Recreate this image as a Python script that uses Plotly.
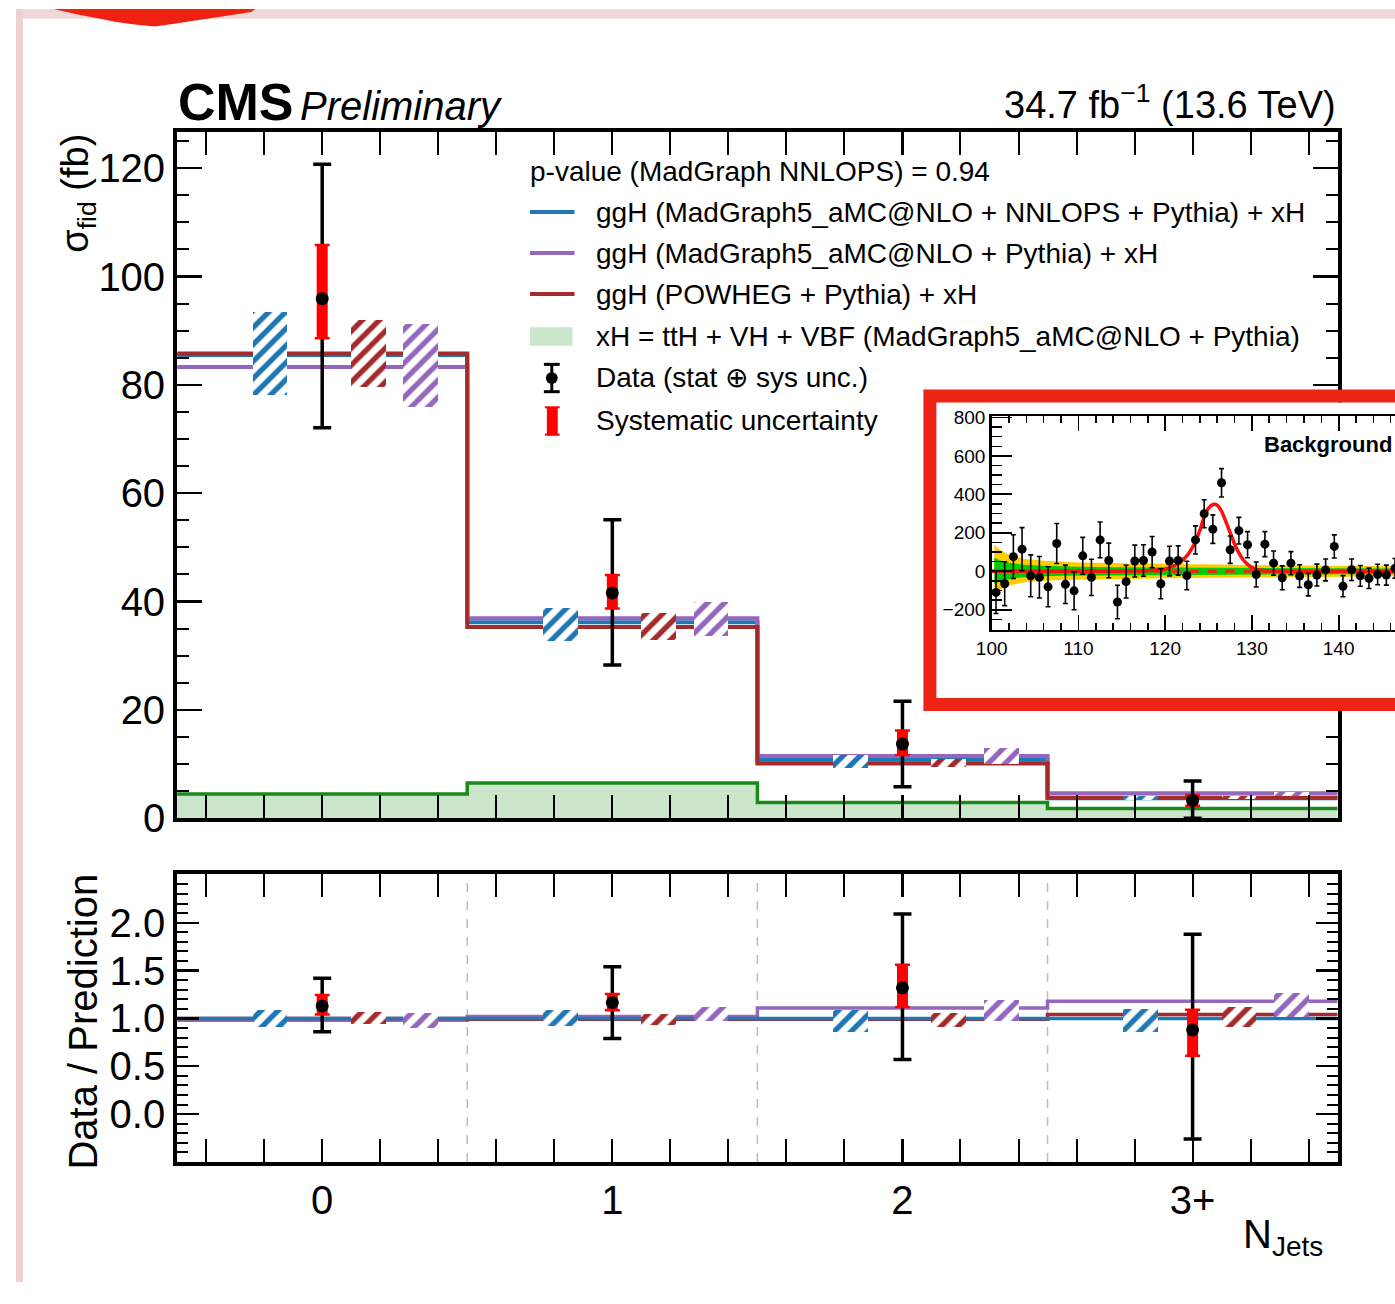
import plotly.graph_objects as go

W, H = 1395, 1304
def px(x): return x / W
def py(y): return 1 - y / H

FONT = "Liberation Sans, Arial, Helvetica, sans-serif"

categories = ['0', '1', '2', '3+']
centers = [0, 1, 2, 3]
edges = [-0.5, 0.5, 1.5, 2.5, 3.5]

data_val = [95.9, 41.6, 13.7, 3.3]
data_tot_up = [120.7, 55.1, 21.6, 6.9]
data_tot_dn = [72.1, 28.3, 5.8, 0.0]
data_sys_up = [105.8, 44.9, 16.2, 4.3]
data_sys_dn = [88.6, 38.7, 11.7, 2.3]

nnlops = [85.5, 36.2, 10.8, 3.7]
nnlops_lo = [78.2, 32.8, 9.2, 3.3]
nnlops_hi = [93.5, 38.9, 11.7, 4.1]
madgraph = [83.3, 36.9, 11.5, 4.6]
madgraph_lo = [75.9, 33.7, 10.1, 4.1]
madgraph_hi = [91.2, 40.0, 13.0, 4.9]
powheg = [85.8, 35.3, 10.1, 3.8]
powheg_lo = [79.6, 33.0, 9.4, 3.5]
powheg_hi = [91.9, 37.8, 11.0, 4.1]
xh = [4.5, 6.5, 2.9, 1.8]

r_data = [1.13, 1.166, 1.32, 0.88]
r_tot_up = [1.42, 1.54, 2.09, 1.88]
r_tot_dn = [0.86, 0.79, 0.57, -0.26]
r_sys_up = [1.245, 1.255, 1.56, 1.09]
r_sys_dn = [1.04, 1.085, 1.12, 0.61]
r_nnlops = [1.0, 1.0, 1.0, 1.0]
r_nnlops_lo = [0.915, 0.92, 0.855, 0.855]
r_nnlops_hi = [1.085, 1.085, 1.09, 1.10]
r_madgraph = [0.98, 1.02, 1.11, 1.18]
r_madgraph_lo = [0.895, 0.97, 0.97, 1.01]
r_madgraph_hi = [1.06, 1.12, 1.19, 1.27]
r_powheg = [1.0, 0.99, 0.99, 1.04]
r_powheg_lo = [0.94, 0.93, 0.91, 0.91]
r_powheg_hi = [1.07, 1.05, 1.06, 1.12]

inset_mass = [100.5, 101.5, 102.5, 103.5, 104.5, 105.5, 106.5, 107.5, 108.5, 109.5,
              110.5, 111.5, 112.5, 113.5, 114.5, 115.5, 116.5, 117.5, 118.5, 119.5,
              120.5, 121.5, 122.5, 123.5, 124.5, 125.5, 126.5, 127.5, 128.5, 129.5,
              130.5, 131.5, 132.5, 133.5, 134.5, 135.5, 136.5, 137.5, 138.5, 139.5,
              140.5, 141.5, 142.5, 143.5, 144.5, 145.5, 146.5]
inset_vals = [-110, -65, 76, 115, -24, -31, -81, 144, -68, -102,
              80, -32, 163, 56, -160, -54, 53, 56, 100, -65,
              53, 56, -22, 163, 299, 219, 460, 112, 211, 138,
              -17, 141, 42, -34, 42, -25, -70, -20, 7, 129,
              -78, 8, -24, -37, -17, -20, 15]
inset_errs = [110, 114, 114, 112, 109, 108, 104, 104, 100, 98,
              96, 94, 93, 90, 87, 85, 83, 82, 81, 78,
              77, 76, 74, 73, 73, 74, 74, 71, 69, 68,
              65, 65, 63, 62, 60, 59, 58, 57, 57, 60,
              55, 56, 54, 53, 53, 52, 51]
fit_mass = [100.0, 110.0, 118.0, 119.0, 120.0, 120.5, 121.0, 121.5, 122.0, 122.5,
            123.0, 123.5, 124.0, 124.5, 125.0, 125.5, 126.0, 126.5, 127.0, 127.5,
            128.0, 128.5, 129.0, 129.5, 130.0, 130.5, 131.0, 132.0, 133.0, 146.5]
fit_vals = [0, 0, 3, 7, 12, 18, 27, 40, 58, 80,
            112, 155, 212, 282, 328, 347, 343, 312, 258, 200,
            142, 96, 60, 36, 20, 10, 5, 2, 0, 0]
bkg_mass = [100.0, 146.5]
bkg_vals = [0.0, 0.0]
band_mass = [100.3, 101, 102, 103, 104, 106, 108, 110, 115, 120, 125, 130, 135, 140, 146.5]
yellow_hi = [137, 110, 85, 72, 62, 54, 49, 46, 42, 38, 35, 32, 30, 28, 26]
yellow_lo = [-117, -95, -75, -64, -56, -50, -46, -43, -40, -37, -34, -32, -30, -28, -26]
green_hi = [70, 56, 44, 37, 32, 28, 25, 23, 21, 19, 18, 17, 16, 15, 14]
green_lo = [-66, -52, -41, -34, -30, -26, -24, -22, -20, -19, -18, -17, -16, -15, -14]

BLUE = '#1f77b4'
PURPLE = '#9467bd'
BROWN = '#a52a2a'
GREEN = '#1a8a1a'
GREEN_FILL = '#cce6cc'
SYS_RED = '#ff0000'
FRAME_RED = '#ec2415'
OFF = {'nnlops': -0.18, 'powheg': 0.16, 'madgraph': 0.34}
BAND_W = 0.12

fig = go.Figure()

def step(v):
    return list(v) + [v[-1]]

def line_trace(vals, color, width, xa, ya):
    return go.Scatter(x=edges, y=step(vals), mode='lines',
                      line=dict(shape='hv', color=color, width=width),
                      xaxis=xa, yaxis=ya, showlegend=False, hoverinfo='skip')

def band_trace(lo, hi, off, color, xa, ya):
    return go.Bar(x=[c + off for c in centers], base=lo,
                  y=[h - l for h, l in zip(hi, lo)], width=BAND_W, opacity=1,
                  marker=dict(color='white', opacity=1, line=dict(width=0),
                              pattern=dict(shape='/', fgcolor=color, bgcolor='white',
                                           fgopacity=1, size=12, solidity=0.45)),
                  xaxis=xa, yaxis=ya, showlegend=False, hoverinfo='skip')

def data_traces(vals, tup, tdn, sup, sdn, xa, ya):
    tr = []
    tr.append(go.Scatter(x=centers, y=vals, mode='markers',
                         marker=dict(size=2, color='rgba(0,0,0,0)'),
                         error_y=dict(type='data', symmetric=False,
                                      array=[u - v for u, v in zip(tup, vals)],
                                      arrayminus=[v - d for v, d in zip(vals, tdn)],
                                      color='black', thickness=3.5, width=9),
                         xaxis=xa, yaxis=ya, showlegend=False, hoverinfo='skip'))
    tr.append(go.Scatter(x=centers, y=vals, mode='markers',
                         marker=dict(size=2, color='rgba(0,0,0,0)'),
                         error_y=dict(type='data', symmetric=False,
                                      array=[u - v for u, v in zip(sup, vals)],
                                      arrayminus=[v - d for v, d in zip(vals, sdn)],
                                      color=SYS_RED, thickness=11, width=0),
                         xaxis=xa, yaxis=ya, showlegend=False, hoverinfo='skip'))
    tr.append(go.Scatter(x=centers, y=vals, mode='markers',
                         marker=dict(size=2, color='rgba(0,0,0,0)'),
                         error_y=dict(type='data', symmetric=False,
                                      array=[u - v for u, v in zip(sup, vals)],
                                      arrayminus=[v - d for v, d in zip(vals, sdn)],
                                      color=SYS_RED, thickness=2.5, width=7.5),
                         xaxis=xa, yaxis=ya, showlegend=False, hoverinfo='skip'))
    tr.append(go.Scatter(x=centers, y=vals, mode='markers',
                         marker=dict(size=13, color='black'),
                         xaxis=xa, yaxis=ya, showlegend=False, hoverinfo='skip'))
    return tr

fig.add_trace(go.Scatter(x=edges, y=step(xh), mode='lines',
                         line=dict(shape='hv', color=GREEN, width=3.5),
                         fill='tozeroy', fillcolor=GREEN_FILL,
                         xaxis='x', yaxis='y', showlegend=False, hoverinfo='skip'))
fig.add_trace(line_trace(nnlops, BLUE, 4, 'x', 'y'))
fig.add_trace(line_trace(madgraph, PURPLE, 4, 'x', 'y'))
fig.add_trace(line_trace(powheg, BROWN, 4, 'x', 'y'))
fig.add_trace(band_trace(nnlops_lo, nnlops_hi, OFF['nnlops'], BLUE, 'x', 'y3'))
fig.add_trace(band_trace(powheg_lo, powheg_hi, OFF['powheg'], BROWN, 'x', 'y3'))
fig.add_trace(band_trace(madgraph_lo, madgraph_hi, OFF['madgraph'], PURPLE, 'x', 'y3'))
for t in data_traces(data_val, data_tot_up, data_tot_dn, data_sys_up, data_sys_dn, 'x', 'y3'):
    fig.add_trace(t)

fig.add_trace(line_trace(r_madgraph, PURPLE, 3.5, 'x2', 'y2'))
fig.add_trace(line_trace(r_powheg, BROWN, 3.5, 'x2', 'y2'))
fig.add_trace(line_trace(r_nnlops, BLUE, 3.5, 'x2', 'y2'))
fig.add_trace(band_trace(r_nnlops_lo, r_nnlops_hi, OFF['nnlops'], BLUE, 'x2', 'y4'))
fig.add_trace(band_trace(r_powheg_lo, r_powheg_hi, OFF['powheg'], BROWN, 'x2', 'y4'))
fig.add_trace(band_trace(r_madgraph_lo, r_madgraph_hi, OFF['madgraph'], PURPLE, 'x2', 'y4'))
for t in data_traces(r_data, r_tot_up, r_tot_dn, r_sys_up, r_sys_dn, 'x2', 'y4'):
    fig.add_trace(t)

fig.add_trace(go.Scatter(x=[0.5], y=[0.5], mode='markers', marker=dict(size=1, color='rgba(0,0,0,0)'),
                         xaxis='x5', yaxis='y5', showlegend=False, hoverinfo='skip'))

fig.add_trace(go.Scatter(x=band_mass + band_mass[::-1], y=yellow_hi + yellow_lo[::-1],
                         mode='lines', fill='toself', fillcolor='#ffcc00', line=dict(width=0),
                         xaxis='x6', yaxis='y6', showlegend=False, hoverinfo='skip'))
fig.add_trace(go.Scatter(x=band_mass + band_mass[::-1], y=green_hi + green_lo[::-1],
                         mode='lines', fill='toself', fillcolor='#00cc00', line=dict(width=0),
                         xaxis='x6', yaxis='y6', showlegend=False, hoverinfo='skip'))
fig.add_trace(go.Scatter(x=bkg_mass, y=bkg_vals, mode='lines',
                         line=dict(color='#ff1a1a', width=3, dash='dash'),
                         xaxis='x6', yaxis='y6', showlegend=False, hoverinfo='skip'))
fig.add_trace(go.Scatter(x=fit_mass, y=fit_vals, mode='lines',
                         line=dict(color='#ff1010', width=3.5, shape='spline', smoothing=0.6),
                         xaxis='x6', yaxis='y6', showlegend=False, hoverinfo='skip'))
fig.add_trace(go.Scatter(x=inset_mass, y=inset_vals, mode='markers',
                         marker=dict(size=9, color='black'),
                         error_y=dict(type='data', array=inset_errs, color='black', thickness=1.6, width=2.5),
                         xaxis='x6', yaxis='y6', showlegend=False, hoverinfo='skip'))

common = dict(showgrid=False, zeroline=False, showline=True, linecolor='black', linewidth=4,
              mirror='allticks', ticks='inside', tickcolor='black', tickwidth=2.2,
              tickfont=dict(family=FONT, size=40, color='black'))

xdom = [px(163), px(1337)]
layout_axes = dict(
    xaxis=dict(domain=xdom, range=[-0.5, 3.5], anchor='y', tickmode='array', tickvals=centers,
               ticktext=categories, showticklabels=False, ticklen=23,
               minor=dict(tickmode='linear', tick0=0, dtick=0.2, ticklen=11, tickwidth=2,
                          ticks='inside', tickcolor='black'), **common),
    yaxis=dict(domain=[py(829), py(126)], range=[0, 126.67], anchor='x', tickmode='linear',
               tick0=0, dtick=20, ticklen=25,
               minor=dict(tickmode='linear', tick0=0, dtick=5, ticklen=12, tickwidth=2,
                          ticks='inside', tickcolor='black'), **common),
    yaxis3=dict(overlaying='y', range=[0, 126.67], anchor='x', visible=False),
    xaxis2=dict(domain=xdom, range=[-0.5, 3.5], anchor='y2', tickmode='array', tickvals=centers,
                ticktext=categories, ticklen=23,
                minor=dict(tickmode='linear', tick0=0, dtick=0.2, ticklen=11, tickwidth=2,
                           ticks='inside', tickcolor='black'), **common),
    yaxis2=dict(domain=[py(1181), py(886)], range=[-0.5, 2.51], anchor='x2', tickmode='array',
                tickvals=[0, 0.5, 1.0, 1.5, 2.0], ticktext=['0.0', '0.5', '1.0', '1.5', '2.0'],
                ticklen=22,
                minor=dict(tickmode='linear', tick0=0, dtick=0.1, ticklen=11, tickwidth=2,
                           ticks='inside', tickcolor='black'), **common),
    yaxis4=dict(overlaying='y2', range=[-0.5, 2.51], anchor='x2', visible=False),
    xaxis5=dict(domain=[px(931), 1.0], range=[0, 1], anchor='y5', visible=False),
    yaxis5=dict(domain=[py(706), py(403)], range=[0, 1], anchor='x5', visible=False),
    xaxis6=dict(domain=[px(987), 1.0], range=[100, 146.5], anchor='y6', tickmode='array',
                tickvals=[100, 110, 120, 130, 140], showgrid=False, zeroline=False, showline=True,
                linecolor='black', linewidth=2.5, mirror='allticks', ticks='inside', ticklen=15,
                tickwidth=1.8, tickcolor='black', tickfont=dict(family=FONT, size=19, color='black'),
                minor=dict(tickmode='linear', tick0=100, dtick=2, ticklen=7, tickwidth=1.5,
                           ticks='inside', tickcolor='black')),
    yaxis6=dict(domain=[py(636), py(417)], range=[-305, 807], anchor='x6', tickmode='array',
                tickvals=[-200, 0, 200, 400, 600, 800], showgrid=False, zeroline=False, showline=True,
                linecolor='black', linewidth=2.5, mirror=False, ticks='inside', ticklen=20,
                tickwidth=1.8, tickcolor='black', tickfont=dict(family=FONT, size=19, color='black'),
                minor=dict(tickmode='linear', tick0=0, dtick=50, ticklen=10, tickwidth=1.5,
                           ticks='inside', tickcolor='black')),
)

shapes = []
shapes.append(dict(type='rect', xref='paper', yref='paper', x0=0, x1=1, y0=py(10), y1=1,
                   fillcolor='#f0d8d8', line=dict(width=0), layer='above'))
shapes.append(dict(type='rect', xref='paper', yref='paper', x0=0, x1=px(7), y0=0, y1=1,
                   fillcolor='#eed2d2', line=dict(width=0), layer='above'))
blob = [(38, 0), (242, 0), (238, 3), (220, 6), (200, 9), (180, 12), (160, 15), (140, 18),
        (120, 16), (100, 13), (80, 9), (60, 5)]
path = 'M ' + ' L '.join(f'{px(a):.5f},{py(b):.5f}' for a, b in blob) + ' Z'
shapes.append(dict(type='path', xref='paper', yref='paper', path=path,
                   fillcolor='#ee2211', line=dict(width=0), layer='above'))
for e in edges[1:-1]:
    shapes.append(dict(type='line', xref='x2', yref='y2 domain', x0=e, x1=e, y0=0, y1=1,
                       line=dict(color='#bdbdbd', width=1.5, dash='dash'), layer='below'))
frame_pts = [(1395, 396.5), (924.5, 396.5), (924.5, 712.5), (1395, 712.5)]
fpath = 'M ' + ' L '.join(f'{px(a):.5f},{py(b):.5f}' for a, b in frame_pts)
shapes.append(dict(type='path', xref='paper', yref='paper', path=fpath,
                   line=dict(color=FRAME_RED, width=13), fillcolor='rgba(0,0,0,0)', layer='above'))
for yy, col in [(208, BLUE), (250, PURPLE), (292, BROWN)]:
    shapes.append(dict(type='line', xref='paper', yref='paper', x0=px(520), x1=px(565),
                       y0=py(yy), y1=py(yy), line=dict(color=col, width=4)))
shapes.append(dict(type='rect', xref='paper', yref='paper', x0=px(520), x1=px(563),
                   y0=py(345), y1=py(326), fillcolor=GREEN_FILL, line=dict(width=0)))
shapes.append(dict(type='line', xref='paper', yref='paper', x0=px(542), x1=px(542),
                   y0=py(392), y1=py(364), line=dict(color='black', width=3)))
for yy in (364, 392):
    shapes.append(dict(type='line', xref='paper', yref='paper', x0=px(534), x1=px(550),
                       y0=py(yy), y1=py(yy), line=dict(color='black', width=3)))
shapes.append(dict(type='circle', xref='paper', yref='paper', x0=px(536), x1=px(548),
                   y0=py(384), y1=py(372), fillcolor='black', line=dict(width=0)))
shapes.append(dict(type='rect', xref='paper', yref='paper', x0=px(537), x1=px(548),
                   y0=py(437), y1=py(408), fillcolor=SYS_RED, line=dict(width=0)))
for yy in (408, 436):
    shapes.append(dict(type='line', xref='paper', yref='paper', x0=px(535), x1=px(550),
                       y0=py(yy), y1=py(yy), line=dict(color=SYS_RED, width=2)))

def ann(text, x, y, size, xanchor='left', yanchor='middle', angle=0):
    return dict(text=text, x=px(x), y=py(y), xref='paper', yref='paper', xanchor=xanchor,
                yanchor=yanchor, showarrow=False, textangle=angle,
                font=dict(family=FONT, size=size, color='black'))

annotations = [
    ann('<b>CMS</b>', 162, 95, 52),
    ann('<i>Preliminary</i>', 285, 99, 40),
    ann('34.7 fb<sup>\u22121</sup> (13.6 TeV)', 1337, 95, 38, xanchor='right'),
    ann('\u03c3<sub>fid</sub> (fb)', 62, 126, 38, xanchor='center', yanchor='top', angle=-90),
    ann('Data / Prediction', 68, 1037, 40, xanchor='center', angle=-90),
    ann('N<sub>Jets</sub>', 1324, 1258, 40, xanchor='right'),
    ann('p-value (MadGraph NNLOPS) = 0.94', 518, 166, 28),
    ann('ggH (MadGraph5_aMC@NLO + NNLOPS + Pythia) + xH', 585, 208, 28),
    ann('ggH (MadGraph5_aMC@NLO + Pythia) + xH', 585, 250, 28),
    ann('ggH (POWHEG + Pythia) + xH', 585, 292, 28),
    ann('xH = ttH + VH + VBF (MadGraph5_aMC@NLO + Pythia)', 585, 335, 28),
    ann('Data (stat \u2295 sys unc.)', 585, 377, 28),
    ann('Systematic uncertainty', 585, 422, 28),
    ann('<b>Background</b>', 1394, 446, 22, xanchor='right'),
]

fig.update_layout(
    width=W, height=H, autosize=False,
    margin=dict(l=0, r=0, t=0, b=0),
    paper_bgcolor='white', plot_bgcolor='white',
    barmode='overlay', bargap=0,
    showlegend=False,
    shapes=shapes, annotations=annotations,
    font=dict(family=FONT, color='black'),
    **layout_axes,
)

# reset the page's default body margin synchronously (right after the plot call)
reset_js = ("}); document.body.style.margin='0px'; document.body.style.padding='0px'; "
            "document.body.style.overflow='hidden'; (function(){")
fig.write_html('out.html', config={'staticPlot': True, 'displayModeBar': False},
               post_script=reset_js)
